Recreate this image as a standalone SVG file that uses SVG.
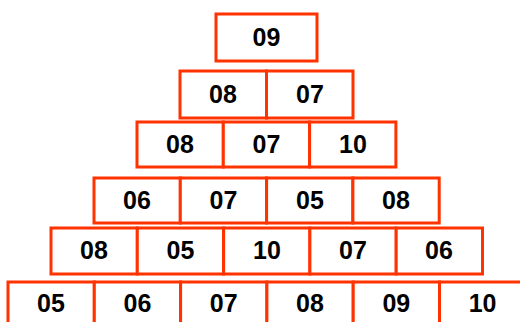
<svg xmlns="http://www.w3.org/2000/svg" width="520" height="322" viewBox="0 0 520 322">
<style>
rect{fill:#fff;stroke:#FF3300;stroke-width:3}
text{font-family:"Liberation Sans",Arial,sans-serif;font-weight:bold;font-size:25px;text-anchor:middle;fill:#000}
</style>
<rect x="0" y="0" width="520" height="322" style="stroke:none;fill:#fff"/>
<g id="r1"><rect x="216" y="14" width="101" height="47"/><text x="266.5" y="46">09</text></g>
<g id="r2">
<g id="n2a"><rect x="180" y="71" width="86.5" height="47"/><text x="223" y="103">08</text></g>
<g id="n2b"><rect x="266.5" y="71" width="86.5" height="47"/><text x="310" y="103">07</text></g>
</g>
<g id="r3">
<g id="n3a"><rect x="137" y="122" width="86.3" height="45"/><text x="180" y="153">08</text></g>
<g id="n3b"><rect x="223.3" y="122" width="86.3" height="45"/><text x="266.5" y="153">07</text></g>
<g id="n3c"><rect x="309.6" y="122" width="86.3" height="45"/><text x="353" y="153">10</text></g>
</g>
<g id="r4">
<g id="n4a"><rect x="94" y="178" width="86.3" height="45"/><text x="137" y="209">06</text></g>
<g id="n4b"><rect x="180.3" y="178" width="86.3" height="45"/><text x="223.5" y="209">07</text></g>
<g id="n4c"><rect x="266.6" y="178" width="86.3" height="45"/><text x="310" y="209">05</text></g>
<g id="n4d"><rect x="352.9" y="178" width="86.3" height="45"/><text x="396" y="209">08</text></g>
</g>
<g id="r5">
<g id="n5a"><rect x="51" y="228" width="86.3" height="46"/><text x="94" y="259">08</text></g>
<g id="n5b"><rect x="137.3" y="228" width="86.3" height="46"/><text x="180.5" y="259">05</text></g>
<g id="n5c"><rect x="223.6" y="228" width="86.3" height="46"/><text x="267" y="259">10</text></g>
<g id="n5d"><rect x="309.9" y="228" width="86.3" height="46"/><text x="353" y="259">07</text></g>
<g id="n5e"><rect x="396.2" y="228" width="86.3" height="46"/><text x="439" y="259">06</text></g>
</g>
<g id="r6">
<g id="n6a"><rect x="8" y="282" width="86.3" height="50"/><text x="51" y="312">05</text></g>
<g id="n6b"><rect x="94.3" y="282" width="86.3" height="50"/><text x="137.5" y="312">06</text></g>
<g id="n6c"><rect x="180.6" y="282" width="86.3" height="50"/><text x="223.7" y="312">07</text></g>
<g id="n6d"><rect x="266.9" y="282" width="86.3" height="50"/><text x="310" y="312">08</text></g>
<g id="n6e"><rect x="353.2" y="282" width="86.3" height="50"/><text x="396.3" y="312">09</text></g>
<g id="n6f"><rect x="439.5" y="282" width="86.3" height="50"/><text x="482.6" y="312">10</text></g>
</g>
<g id="connectors"></g>
</svg>
